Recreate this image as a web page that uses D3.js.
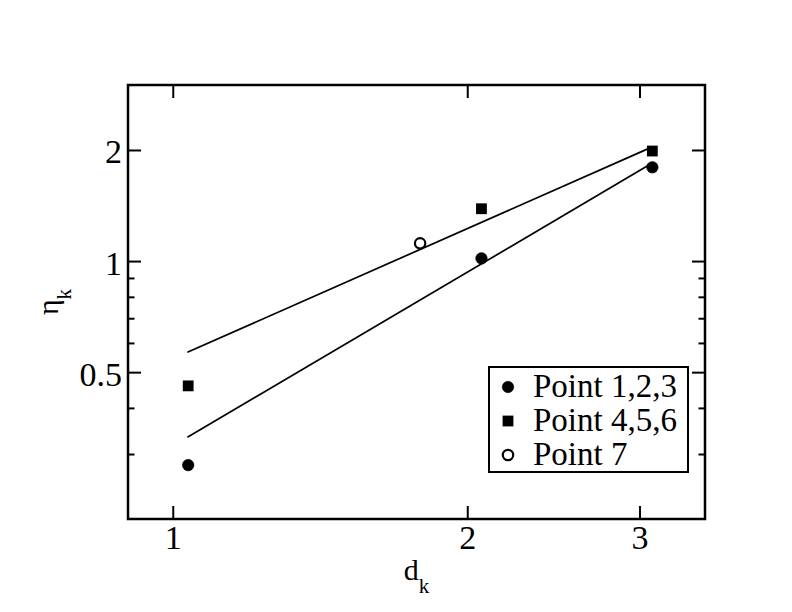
<!DOCTYPE html>
<html><head><meta charset="utf-8">
<script src="https://cdn.jsdelivr.net/npm/d3@7"></script>
<style>body{margin:0;background:#fff}svg{display:block}</style>
</head><body>
<script>
// ---- data ----
const seriesNames = ["Point 1,2,3", "Point 4,5,6", "Point 7"];
const dk123 = [1.037, 2.068, 3.092];
const eta123 = [0.280, 1.017, 1.795];
const dk456 = [1.037, 2.068, 3.092];
const eta456 = [0.459, 1.386, 1.987];
const dk7 = [1.79];
const eta7 = [1.117];
const fitLowX = [1.035, 3.067];
const fitLowY = [0.333, 1.82];
const fitHighX = [1.035, 3.067];
const fitHighY = [0.566, 2.02];
const xTicks = [1, 2, 3];
const yTicks = [0.5, 1, 2];
const yMinorTicks = [0.3, 0.4, 0.6, 0.7, 0.8, 0.9];

// ---- layout ----
const W = 792, H = 612;
const L = 128, R = 705, T = 85, B = 519;
const font = "'Liberation Serif', 'Times New Roman', serif";

const svg = d3.select("body").append("svg").attr("width", W).attr("height", H)
  .style("background", "#fff");

const x = d3.scaleLog().domain([0.9, 3.5]).range([L, R]);
const y = d3.scaleLog().domain([0.2, 3]).range([B, T]);

const major = 13, minor = 6.5;

function styleAxis(g) {
  g.select(".domain").remove();
  g.selectAll(".tick line").attr("stroke", "#000").attr("stroke-width", 2);
  g.selectAll("text").attr("font-family", font).attr("font-size", 34).attr("fill", "#000");
}

// bottom
svg.append("g").attr("transform", `translate(0,${B})`)
  .call(d3.axisBottom(x).tickValues(xTicks).tickSize(-major).tickFormat(d3.format("d")))
  .call(styleAxis)
  .call(g => g.selectAll("text").attr("y", 30).attr("dy", null));
// top
svg.append("g").attr("transform", `translate(0,${T})`)
  .call(d3.axisTop(x).tickValues(xTicks).tickSize(-major).tickFormat(""))
  .call(styleAxis);
// left major
svg.append("g").attr("transform", `translate(${L},0)`)
  .call(d3.axisLeft(y).tickValues(yTicks).tickSize(-major).tickFormat(d => d === 0.5 ? "0.5" : d3.format("d")(d)))
  .call(styleAxis)
  .call(g => g.selectAll("text").attr("x", -6).attr("dy", 13));
svg.append("g").attr("transform", `translate(${L},0)`)
  .call(d3.axisLeft(y).tickValues(yMinorTicks).tickSize(-minor).tickFormat(""))
  .call(styleAxis);
// right
svg.append("g").attr("transform", `translate(${R},0)`)
  .call(d3.axisRight(y).tickValues(yTicks).tickSize(-major).tickFormat(""))
  .call(styleAxis);
svg.append("g").attr("transform", `translate(${R},0)`)
  .call(d3.axisRight(y).tickValues(yMinorTicks).tickSize(-minor).tickFormat(""))
  .call(styleAxis);

// frame
svg.append("rect").attr("x", L).attr("y", T).attr("width", R - L).attr("height", B - T)
  .attr("fill", "none").attr("stroke", "#000").attr("stroke-width", 2.5);

// fit lines
const line = d3.line().x(d => x(d[0])).y(d => y(d[1]));
[[fitLowX, fitLowY], [fitHighX, fitHighY]].forEach(([xs, ys]) => {
  svg.append("path").datum(xs.map((v, i) => [v, ys[i]]))
    .attr("d", line).attr("fill", "none").attr("stroke", "#000").attr("stroke-width", 1.7);
});

// markers
function circle(g, cx, cy, filled) {
  g.append("circle").attr("cx", cx).attr("cy", cy)
    .attr("r", filled ? 5.8 : 5.2)
    .attr("fill", filled ? "#000" : "#fff")
    .attr("stroke", "#000").attr("stroke-width", filled ? 0.5 : 2.2);
}
function square(g, cx, cy) {
  g.append("rect").attr("x", cx - 5.4).attr("y", cy - 5.4).attr("width", 10.8).attr("height", 10.8)
    .attr("fill", "#000");
}
const pts = svg.append("g");
dk123.forEach((d, i) => circle(pts, x(d), y(eta123[i]), true));
dk456.forEach((d, i) => square(pts, x(d), y(eta456[i])));
dk7.forEach((d, i) => circle(pts, x(d), y(eta7[i]), false));

// axis titles
const xt = svg.append("text").attr("x", (L + R) / 2).attr("y", 580)
  .attr("text-anchor", "middle").attr("font-family", font).attr("font-size", 30);
xt.append("tspan").text("d");
xt.append("tspan").attr("font-size", 21).attr("dy", 13).text("k");

const yt = svg.append("text").attr("transform", `translate(58,${(T + B) / 2}) rotate(-90)`)
  .attr("text-anchor", "middle").attr("font-family", font).attr("font-size", 30);
yt.append("tspan").text("η");
yt.append("tspan").attr("font-size", 21).attr("dy", 13).text("k");

// legend
const lg = svg.append("g");
lg.append("rect").attr("x", 489).attr("y", 367).attr("width", 199).attr("height", 105)
  .attr("fill", "#fff").attr("stroke", "#000").attr("stroke-width", 2);
const rowY = [387, 421, 455];
seriesNames.forEach((name, i) => {
  if (i === 0) circle(lg, 508, rowY[i], true);
  else if (i === 1) square(lg, 508, rowY[i]);
  else circle(lg, 508, rowY[i], false);
  lg.append("text").attr("x", 533).attr("y", rowY[i] + 10)
    .attr("font-family", font).attr("font-size", 33).text(name);
});
</script>
</body></html>
